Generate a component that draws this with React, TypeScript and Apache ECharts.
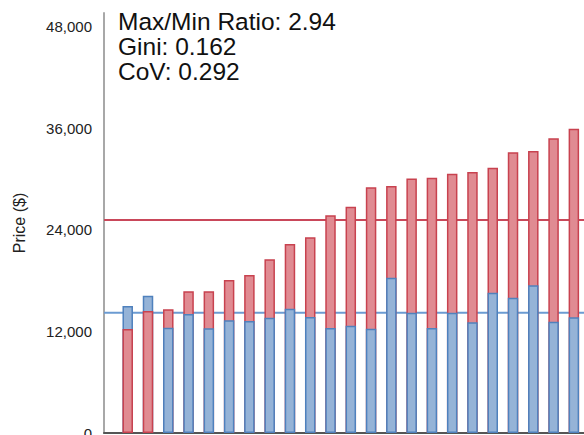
import React, { useEffect, useRef } from "react";
import * as echarts from "echarts";

// Values (USD)
const redPrices = [12300, 14420, 14630, 16750, 16750, 18090, 18680, 20540, 22350, 23140, 25740, 26760, 29040, 29200, 30100, 30180, 30650, 30850, 31360, 33180, 33330, 34830, 35970];
const bluePrices = [15020, 16230, 12450, 14070, 12380, 13320, 13240, 13630, 14690, 13710, 12410, 12690, 12330, 18360, 14220, 12410, 14220, 13080, 16590, 15990, 17460, 13160, 13670];
const redMean = 25180;
const blueMean = 14220;
const statLines = ["Max/Min Ratio: 2.94", "Gini: 0.162", "CoV: 0.292"];
const yTickInterval = 12000;
const yAxisName = "Price ($)";

const X_MIN = -1.17;
const X_MAX = 22.5;

const RED_FILL = "#e08b92";
const RED_EDGE = "#c8424f";
const BLUE_FILL = "#95b3d7";
const BLUE_EDGE = "#4f81bd";
const FONT = "'Liberation Sans', Arial, sans-serif";

export default function App() {
  const ref = useRef<HTMLDivElement>(null);
  useEffect(() => {
    if (!ref.current) return;
    const chart = echarts.init(ref.current, undefined, { renderer: "svg" });
    const pts = (vals: number[], keep: (i: number) => boolean) =>
      vals.map((v, i) => (keep(i) ? [i, v] : [i, "-"]));
    const redStyle = { color: RED_FILL, borderColor: RED_EDGE, borderWidth: 1.5 };
    const blueStyle = { color: BLUE_FILL, borderColor: BLUE_EDGE, borderWidth: 1.5 };
    const barCommon = { type: "bar", barWidth: 10.5, barGap: "-100%", silent: true, z: 3 };
    const meanLine = (name: string, v: number, color: string) => ({
      type: "line",
      name,
      data: [
        [X_MIN, v],
        [X_MAX, v],
      ],
      z: 1,
      silent: true,
      symbol: "none",
      lineStyle: { color, width: 2 },
    });
    chart.setOption({
      animation: false,
      grid: { left: 104, right: 0, top: 13, bottom: 2, containLabel: false, outerBoundsMode: "none" },
      xAxis: {
        type: "value",
        min: X_MIN,
        max: X_MAX,
        axisLine: { show: true, onZero: false, lineStyle: { color: "#555", width: 2 } },
        axisTick: { show: false },
        axisLabel: { show: false },
        splitLine: { show: false },
      },
      yAxis: {
        type: "value",
        min: 0,
        max: 49650,
        interval: yTickInterval,
        name: yAxisName,
        nameLocation: "middle",
        nameGap: 77,
        nameTextStyle: { fontFamily: FONT, fontSize: 16, color: "#222" },
        axisLine: { show: true, onZero: false, lineStyle: { color: "#a8a8a8", width: 2 } },
        axisTick: { show: false },
        splitLine: { show: false },
        axisLabel: {
          margin: 12,
          fontFamily: FONT,
          fontSize: 15,
          color: "#222",
          formatter: (v: number) => (v % yTickInterval === 0 ? v.toLocaleString("en-US") : ""),
        },
      },
      series: [
        meanLine("redMean", redMean, "#c9485a"),
        meanLine("blueMean", blueMean, "#6b9bd2"),
        { ...barCommon, name: "blueBack", data: pts(bluePrices, (i) => bluePrices[i] > redPrices[i]), itemStyle: blueStyle },
        { ...barCommon, name: "redBack", data: pts(redPrices, (i) => redPrices[i] >= bluePrices[i]), itemStyle: redStyle },
        { ...barCommon, name: "redFront", data: pts(redPrices, (i) => redPrices[i] < bluePrices[i]), itemStyle: redStyle },
        { ...barCommon, name: "blueFront", data: pts(bluePrices, (i) => bluePrices[i] <= redPrices[i]), itemStyle: blueStyle },
      ],
      graphic: [
        {
          type: "text",
          left: 118,
          top: 9,
          silent: true,
          style: {
            text: statLines.join("\n"),
            fontFamily: FONT,
            fontSize: 24.5,
            lineHeight: 25,
            fill: "#111",
          },
        },
      ],
    });
    return () => chart.dispose();
  }, []);
  return (
    <div
      ref={ref}
      style={{ position: "fixed", left: 0, top: 0, width: 584, height: 435, background: "#fff" }}
    />
  );
}
